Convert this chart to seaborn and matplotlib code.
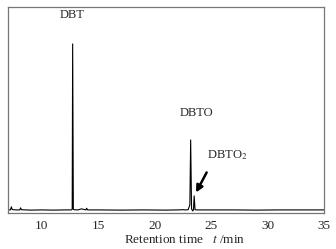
import numpy as np
import pandas as pd
import seaborn as sns
from matplotlib import pyplot as plt

# chromatogram (time in min, signal in % of axis height)
time = [7.0, 7.2, 7.3, 7.35, 7.45, 7.8, 8.05, 8.1, 8.2, 9.0, 10.0, 11.0, 12.0,
        12.6, 12.68, 12.72, 12.78, 12.85, 13.2, 13.5, 13.9, 13.95, 14.05, 15.0,
        17.0, 19.0, 21.0, 22.0, 22.5, 22.7, 22.95, 23.1, 23.17, 23.25, 23.35,
        23.42, 23.48, 23.56, 23.7, 25.0, 27.0, 29.0, 31.0, 33.0, 35.0]
signal = [1.5, 1.5, 3.0, 1.8, 1.6, 1.5, 1.5, 2.5, 1.6, 1.4, 1.5, 1.4, 1.5,
          1.5, 1.8, 82.2, 1.8, 1.6, 1.5, 2.0, 1.5, 2.3, 1.5, 1.5,
          1.4, 1.5, 1.4, 1.5, 1.6, 1.5, 1.6, 4.0, 35.5, 2.0, 1.0,
          1.5, 8.3, 1.6, 1.5, 1.5, 1.5, 1.4, 1.5, 1.5, 1.5]

peak_names = ["DBT", "DBTO"]
peak_label_x = [12.7, 23.66]
peak_label_y = [96.5, 48.6]

df = pd.DataFrame({"time": time, "signal": signal})

sns.set_style("white")
plt.rcParams["font.family"] = ["Liberation Serif", "DejaVu Serif"]
plt.rcParams["mathtext.fontset"] = "stix"

fig = plt.figure(figsize=(3.36, 2.49), dpi=100)
ax = fig.add_axes([0.024, 0.1446, 0.941, 0.826])

sns.lineplot(data=df, x="time", y="signal", color="black", linewidth=0.8, ax=ax)

ax.set_xlim(7, 35)
ax.set_ylim(0, 100)
ax.set_xticks([10, 15, 20, 25, 30, 35])
ax.set_xticks(np.arange(7.5, 35, 2.5), minor=True)
ax.set_yticks([])
ax.tick_params(axis="x", which="major", direction="in", length=4, width=0.8,
               labelsize=9.5, pad=5, color="#555555")
ax.tick_params(axis="x", which="minor", direction="in", length=2.5, width=0.8,
               color="#555555")
for s in ax.spines.values():
    s.set_color("#777777")
    s.set_linewidth(0.9)

for name, x, y in zip(peak_names, peak_label_x, peak_label_y):
    ax.text(x, y, name, ha="center", va="center", fontsize=9)

ax.text(24.58, 28.2, "DBTO$_2$", ha="left", va="center", fontsize=9)
ax.annotate("", xy=(23.53, 8.75), xytext=(24.7, 20.9),
            arrowprops=dict(arrowstyle="-|>", color="black", lw=1.8,
                            mutation_scale=10))

ax.set_xlabel("")
ax.set_ylabel("")
fig.text(185 / 336, 9 / 249, "Retention time   $\\it{t}$ /min",
         ha="center", va="center", fontsize=9.5)

fig.savefig("out.png", dpi=100)
